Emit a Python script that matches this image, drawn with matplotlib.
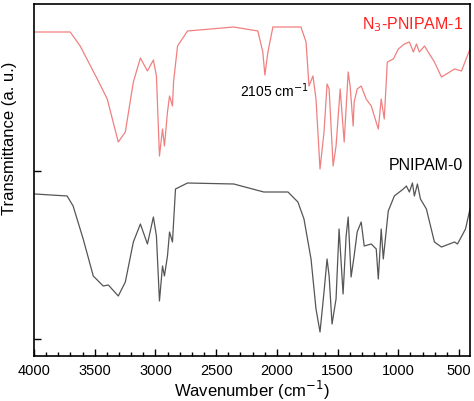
import matplotlib
matplotlib.use('Agg')
import matplotlib.pyplot as plt
from matplotlib.ticker import MultipleLocator

plt.rcParams['font.family'] = ['Liberation Sans', 'DejaVu Sans']

red_wn = [3992,3702,3620,3479,3397,3306,3248,3182,3124,3066,3017,2992,2967,2942,2926,2901,2884,2860,2851,2818,2736,2355,2157,2116,2099,2074,2033,1802,1760,1736,1703,1678,1645,1612,1587,1570,1537,1513,1479,1446,1413,1397,1372,1364,1339,1306,1265,1223,1165,1141,1116,1091,1041,1000,950,909,876,851,827,785,703,645,537,480,410]
red_px = [33,33,47,80,100,143,133,83,59,72,61,77,157,130,147,113,97,107,83,47,32,28,32,53,76,53,28,28,43,87,77,100,170,133,85,90,167,147,90,143,73,87,127,103,90,87,100,107,130,100,120,63,60,50,45,43,53,45,53,47,63,78,70,72,50]

gray_wn = [3992,3727,3678,3595,3512,3430,3388,3306,3248,3182,3124,3066,3017,2992,2967,2942,2926,2901,2884,2860,2835,2736,2355,2108,1909,1827,1777,1719,1678,1645,1612,1587,1570,1546,1513,1488,1455,1430,1413,1389,1364,1339,1306,1281,1223,1182,1165,1141,1124,1083,1033,959,934,909,884,868,843,818,769,703,645,537,513,447,410]
gray_px = [195,197,207,240,277,287,286,297,283,243,225,245,218,237,302,267,277,257,233,243,190,184,185,193,193,203,220,260,310,333,293,260,277,325,300,230,295,237,218,278,257,233,223,247,245,250,280,230,260,212,197,190,187,193,184,197,185,200,210,243,248,243,245,230,210]

red_t = [400 - v for v in red_px]
gray_t = [400 - v for v in gray_px]

fig = plt.figure(figsize=(4.74, 4.02), dpi=100)
ax = fig.add_axes([34/474, 45/402, 436/474, 352/402])
ax.plot(red_wn, red_t, color='#f08080', lw=0.9)
ax.plot(gray_wn, gray_t, color='#555555', lw=0.9)
ax.set_xlim(4000, 410)
ax.set_ylim(43, 395)
ax.xaxis.set_major_locator(MultipleLocator(500))
ax.xaxis.set_minor_locator(MultipleLocator(100))
ax.set_yticks([60, 228])
ax.set_yticklabels([])
ax.tick_params(direction='in', which='major', length=5, width=1, labelsize=10.5)
ax.tick_params(direction='in', which='minor', length=3, width=1)
ax.tick_params(axis='x', pad=5)
for s in ax.spines.values():
    s.set_linewidth(1.2)
ax.set_xlabel('Wavenumber (cm$^{-1}$)', fontsize=12, labelpad=1)
ax.set_ylabel('Transmittance (a. u.)', fontsize=12)
ax.yaxis.set_label_coords(-0.038, 0.62)
ax.text(0.985, 0.93, 'N$_3$-PNIPAM-1', transform=ax.transAxes, color='#ff2020', fontsize=11.5, ha='right')
ax.text(0.985, 0.53, 'PNIPAM-0', transform=ax.transAxes, color='black', fontsize=11.5, ha='right')
ax.text(2300, 303, '2105 cm$^{-1}$', fontsize=10, ha='left')
fig.savefig('out.png', dpi=100)
